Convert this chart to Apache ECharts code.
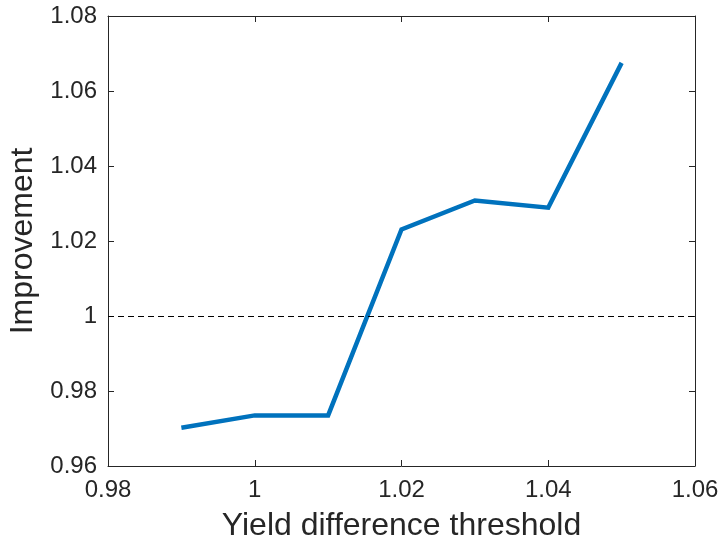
<!DOCTYPE html>
<html>
<head>
<meta charset="utf-8">
<script src="https://cdn.jsdelivr.net/npm/echarts@6/dist/echarts.min.js"></script>
<style>
  html, body { margin: 0; padding: 0; background: #fff; }
  #chart { width: 721px; height: 544px; }
</style>
</head>
<body>
<div id="chart"></div>
<script>
// Threshold values and the measured improvement at each
const thresholds = [0.99, 1.00, 1.01, 1.02, 1.03, 1.04, 1.05];
const improvement = [0.9702, 0.9735, 0.9735, 1.0231, 1.0308, 1.0289, 1.0675];
const baseline = 1;

const xRange = [0.98, 1.06];
const yRange = [0.96, 1.08];
const xStep = 0.02;
const yStep = 0.02;

const axisColor = '#262626';
const fontFamily = 'Liberation Sans, Arial, Helvetica, sans-serif';

// Trim trailing zeros: 1.00 -> 1, 1.020 -> 1.02
const fmt = v => String(parseFloat(v.toFixed(2)));

const chart = echarts.init(document.getElementById('chart'), null, { renderer: 'canvas' });

const axisLine = { show: true, lineStyle: { color: axisColor, width: 1 } };
const axisTick = { show: true, inside: true, length: 6, lineStyle: { color: axisColor, width: 1 } };

chart.setOption({
  animation: false,
  backgroundColor: '#ffffff',
  grid: { left: 108, right: 26, top: 16, bottom: 78, containLabel: false, outerBoundsMode: 'none' },
  xAxis: [
    {
      type: 'value', position: 'bottom',
      min: xRange[0], max: xRange[1], interval: xStep,
      name: 'Yield difference threshold', nameLocation: 'middle', nameGap: 44,
      nameTextStyle: { fontSize: 32, color: axisColor, fontFamily },
      axisLine, axisTick,
      axisLabel: { formatter: fmt, fontSize: 24, color: axisColor, fontFamily, margin: 12 },
      splitLine: { show: false }
    },
    {
      type: 'value', position: 'top',
      min: xRange[0], max: xRange[1], interval: xStep,
      axisLine, axisTick,
      axisLabel: { show: false },
      splitLine: { show: false }
    }
  ],
  yAxis: [
    {
      type: 'value', position: 'left',
      min: yRange[0], max: yRange[1], interval: yStep,
      name: 'Improvement', nameLocation: 'middle', nameGap: 67,
      nameTextStyle: { fontSize: 32, color: axisColor, fontFamily },
      axisLine, axisTick,
      axisLabel: { formatter: fmt, fontSize: 24, color: axisColor, fontFamily, margin: 11 },
      splitLine: { show: false }
    },
    {
      type: 'value', position: 'right',
      min: yRange[0], max: yRange[1], interval: yStep,
      axisLine, axisTick,
      axisLabel: { show: false },
      splitLine: { show: false }
    }
  ],
  series: [
    {
      type: 'line',
      data: thresholds.map((x, i) => [x, improvement[i]]),
      showSymbol: false,
      symbol: 'none',
      lineStyle: { color: '#0072BD', width: 4.5, join: 'miter' },
      z: 3,
      markLine: {
        silent: true,
        symbol: ['none', 'none'],
        label: { show: false },
        lineStyle: { color: '#000000', width: 1, type: [6, 4] },
        data: [{ yAxis: baseline }]
      }
    }
  ]
});
</script>
</body>
</html>
